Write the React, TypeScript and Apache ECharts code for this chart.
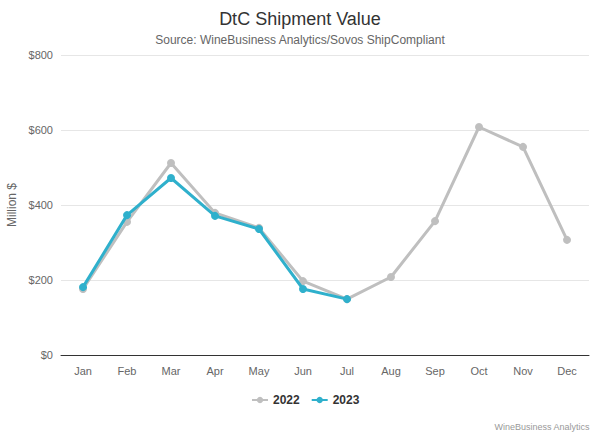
import React, { useEffect, useRef } from "react";
import * as echarts from "echarts";

const months = ["Jan", "Feb", "Mar", "Apr", "May", "Jun", "Jul", "Aug", "Sep", "Oct", "Nov", "Dec"];
const values2022 = [176, 355, 512, 379, 339, 197, 149, 208, 357, 608, 555, 307];
const values2023 = [181, 373, 472, 371, 336, 176, 149];
const yTicks = [0, 200, 400, 600, 800];

const FONT = "'Liberation Sans', Arial, sans-serif";

export default function App() {
  const ref = useRef<HTMLDivElement>(null);
  useEffect(() => {
    const chart = echarts.init(ref.current!, null, { renderer: "svg" });
    chart.setOption({
      animation: false,
      backgroundColor: "#ffffff",
      textStyle: { fontFamily: FONT },
      title: {
        text: "DtC Shipment Value",
        subtext: "Source: WineBusiness Analytics/Sovos ShipCompliant",
        left: "center",
        top: 5,
        itemGap: 6,
        textStyle: { fontFamily: FONT, fontSize: 18, fontWeight: "normal", color: "#333333" },
        subtextStyle: { fontFamily: FONT, fontSize: 12, color: "#666666" },
      },
      graphic: [
        {
          type: "text",
          right: 10,
          bottom: 6,
          style: { text: "WineBusiness Analytics", fontFamily: FONT, fontSize: 9, fill: "#999999" },
        },
      ],
      legend: {
        bottom: 26,
        left: 246,
        itemWidth: 16,
        itemHeight: 8,
        itemGap: 11,
        textStyle: { fontFamily: FONT, fontSize: 12, fontWeight: "bold", color: "#333333" },
        data: ["2022", "2023"],
      },
      grid: { left: 61, right: 11, top: 55, bottom: 82, outerBoundsMode: "none", containLabel: false },
      xAxis: {
        type: "category",
        data: months,
        boundaryGap: true,
        axisLine: { lineStyle: { color: "#333333", width: 1 } },
        axisTick: { show: false },
        axisLabel: { color: "#666666", fontSize: 11, fontFamily: FONT, margin: 10 },
      },
      yAxis: {
        type: "value",
        min: 0,
        max: 800,
        interval: 200,
        name: "Million $",
        nameLocation: "middle",
        nameGap: 36,
        nameTextStyle: { color: "#666666", fontSize: 12, fontFamily: FONT },
        axisLine: { show: false },
        axisTick: { show: false },
        splitLine: { lineStyle: { color: "#e6e6e6", width: 1 } },
        axisLabel: {
          color: "#666666",
          fontSize: 11,
          fontFamily: FONT,
          margin: 8,
          formatter: (v: number) => (yTicks.includes(v) ? "$" + v : ""),
        },
      },
      series: [
        {
          name: "2022",
          type: "line",
          data: values2022,
          color: "#bfbfbf",
          symbol: "circle",
          symbolSize: 8,
          lineStyle: { width: 3, color: "#bfbfbf" },
          itemStyle: { color: "#bfbfbf" },
          z: 2,
        },
        {
          name: "2023",
          type: "line",
          data: values2023,
          color: "#2fb0cc",
          symbol: "circle",
          symbolSize: 8,
          lineStyle: { width: 3, color: "#2fb0cc" },
          itemStyle: { color: "#2fb0cc" },
          z: 3,
        },
      ],
    });
    return () => chart.dispose();
  }, []);
  return <div ref={ref} style={{ width: 600, height: 437, position: "fixed", left: 0, top: 0 }} />;
}
